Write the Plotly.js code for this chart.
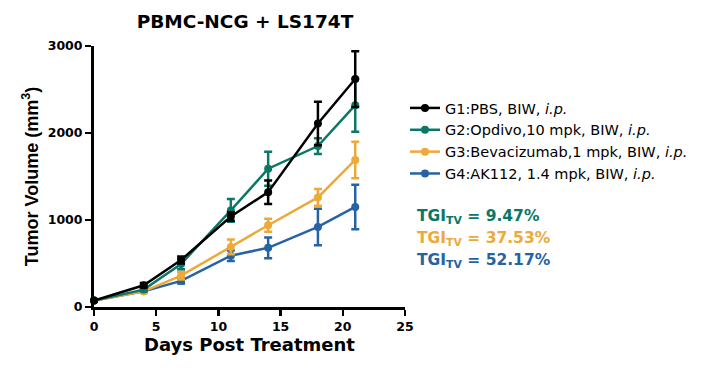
<!DOCTYPE html>
<html><head><meta charset="utf-8">
<script src="https://cdn.plot.ly/plotly-3.0.1.min.js"></script>
<style>html,body{margin:0;padding:0;background:#fff;}#chart{width:706px;height:368px;}</style>
</head><body><div id="chart"></div>
<script>
const days = [0, 4, 7, 11, 14, 18, 21];
const groupNames = [
  "G1:PBS, BIW, <i>i.p.</i>",
  "G2:Opdivo,10 mpk, BIW, <i>i.p.</i>",
  "G3:Bevacizumab,1 mpk, BIW, <i>i.p.</i>",
  "G4:AK112, 1.4 mpk, BIW, <i>i.p.</i>"
];
const g1Mean = [75, 250, 540, 1040, 1320, 2110, 2620];
const g1Err  = [10, 25, 40, 50, 135, 250, 320];
const g2Mean = [75, 200, 495, 1110, 1590, 1850, 2320];
const g2Err  = [10, 20, 60, 130, 195, 90, 305];
const g3Mean = [75, 180, 360, 690, 940, 1260, 1690];
const g3Err  = [10, 15, 45, 85, 75, 95, 210];
const g4Mean = [75, 180, 300, 590, 680, 920, 1150];
const g4Err  = [10, 15, 30, 60, 120, 210, 255];
const colors = ["#000000", "#0B7766", "#EDA93A", "#2563A3"];
const tgiLabels = ["TGI<sub>TV</sub> = 9.47%", "TGI<sub>TV</sub> = 37.53%", "TGI<sub>TV</sub> = 52.17%"];

const means = [g1Mean, g2Mean, g3Mean, g4Mean];
const errs = [g1Err, g2Err, g3Err, g4Err];
const traces = [];
for (let i = 3; i >= 0; i--) {
  traces.push({
    x: days, y: means[i], type: 'scatter', mode: 'lines+markers',
    name: groupNames[i], legendrank: i + 1,
    line: {color: colors[i], width: 2.5},
    marker: {color: colors[i], size: 8},
    error_y: {type: 'data', array: errs[i], visible: true, color: colors[i], thickness: 2.5, width: 4},
    cliponaxis: false
  });
}
const FB = "DejaVu Sans, sans-serif";
const FA = "Liberation Sans, Arial, sans-serif";
const plotL = 94, plotW = 311, plotTop = 46, plotH = 261;
const annY = [217, 239, 261];
const annotations = tgiLabels.map((t, k) => ({
  text: t, xref: 'paper', yref: 'paper',
  x: (415 - plotL) / plotW, y: 1 - (annY[k] - plotTop) / plotH,
  showarrow: false, xanchor: 'left', yanchor: 'middle',
  font: {family: FB, size: 15.5, color: colors[k + 1], weight: 'bold'}
}));
const layout = {
  width: 706, height: 368,
  margin: {l: plotL, r: 706 - plotL - plotW, t: plotTop, b: 368 - plotTop - plotH, autoexpand: false},
  paper_bgcolor: '#fff', plot_bgcolor: '#fff',
  title: {text: 'PBMC-NCG + LS174T', font: {family: FB, size: 18.5, color: '#000', weight: 'bold'}, x: 245/706, xanchor: 'center', y: 1 - 22/368, yanchor: 'middle'},
  xaxis: {
    range: [0, 25], tickvals: [0, 5, 10, 15, 20, 25], showgrid: false, zeroline: false,
    showline: true, linecolor: '#000', linewidth: 3, ticks: 'outside', ticklen: 6, tickwidth: 2.5, tickcolor: '#000',
    tickfont: {family: FB, size: 12.5, color: '#000', weight: 'bold'},
    title: {text: 'Days Post Treatment', font: {family: FB, size: 18, color: '#000', weight: 'bold'}, standoff: 6}
  },
  yaxis: {
    range: [0, 3000], tickvals: [0, 1000, 2000, 3000], showgrid: false, zeroline: false,
    showline: true, linecolor: '#000', linewidth: 3, ticks: 'outside', ticklen: 6, tickwidth: 2.5, tickcolor: '#000',
    tickfont: {family: FB, size: 12.5, color: '#000', weight: 'bold'},
    title: {text: 'Tumor Volume (mm<sup>3</sup>)', font: {family: FA, size: 18, color: '#000', weight: 'bold'}, standoff: 5}
  },
  showlegend: true,
  legend: {x: (405 - plotL) / plotW, y: 1 - (92 - plotTop) / plotH, xanchor: 'left', yanchor: 'top',
    font: {family: FB, size: 14.5, color: '#000'}, bgcolor: 'rgba(0,0,0,0)', itemwidth: 30, tracegroupgap: 0},
  annotations: annotations
};
Plotly.newPlot('chart', traces, layout, {displayModeBar: false, staticPlot: true});
</script></body></html>
